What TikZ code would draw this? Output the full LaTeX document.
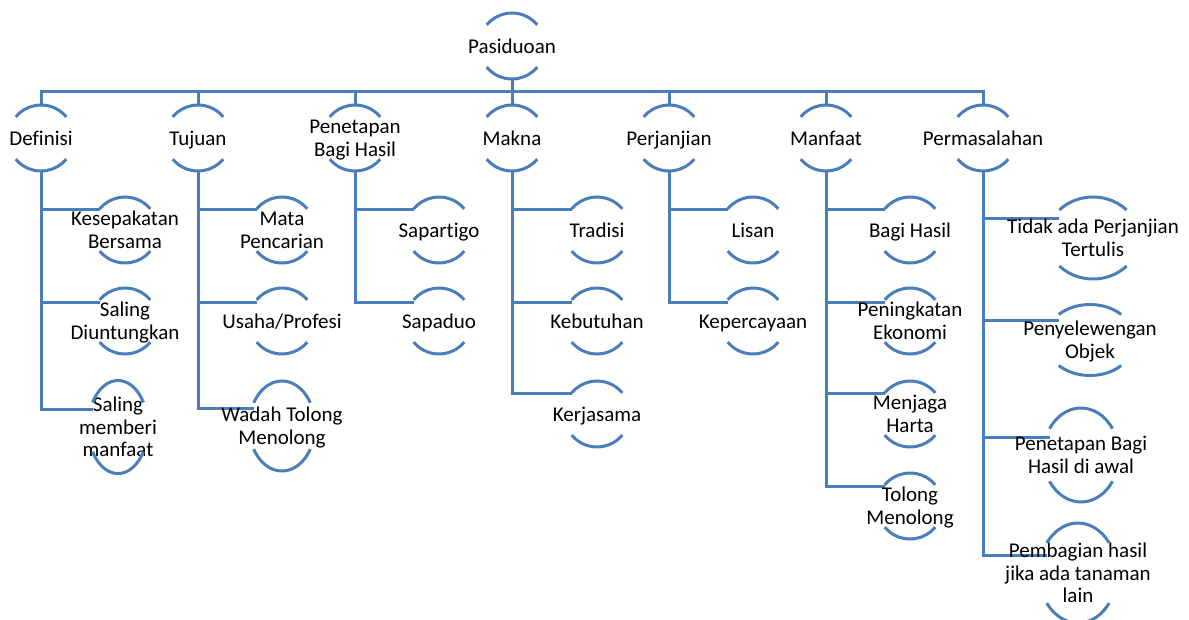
\documentclass[tikz,border=0pt]{standalone}
\usepackage{fontspec}
\setmainfont{Carlito}[Ligatures=NoCommon]
\usetikzlibrary{backgrounds}
\definecolor{lineblue}{RGB}{74,126,187}
\tikzset{
  txt/.style={inner sep=0pt, align=center, yshift=-2.5pt, font=\fontsize{21}{22.5}\selectfont},
  arcl/.style={draw=lineblue, line width=3pt},
  conn/.style={draw=lineblue, line width=3pt}
}
% name, cx, cy, rx, ry, angle, branch y, text
\newcommand{\hnode}[8]{%
  \node[txt] (#1) at (#2,-#3) {#8};
  \draw[arcl] (#2,-#3) ++(#6:#4pt and #5pt) arc[start angle=#6, end angle={180-#6}, x radius=#4pt, y radius=#5pt];
  \draw[arcl] (#2,-#3) ++({180+#6}:#4pt and #5pt) arc[start angle={180+#6}, end angle={360-#6}, x radius=#4pt, y radius=#5pt];
  \coordinate (#1-t) at (#2,{-#3+#5});
  \coordinate (#1-b) at (#2,{-#3-#5});
  \pgfmathsetmacro\ex{#2-#4*cos(#6)}
  \coordinate (#1-in) at (\ex,-#7);
}
\newcommand{\st}{\strut}
\begin{document}
\begin{tikzpicture}[x=1pt,y=1pt]
\useasboundingbox (0,0) rectangle (1189,-619);
\coordinate (bar) at (0,-91);
% root
\hnode{pas}{512}{46}{33}{33}{40}{0}{\st Pasiduoan}
% level 1
\hnode{def}{41}{138}{33}{33}{40}{0}{\st Definisi}
\hnode{tuj}{198}{138}{33}{33}{40}{0}{\st Tujuan}
\hnode{pen}{355}{138}{33}{33}{40}{0}{\st Penetapan\\\st Bagi Hasil}
\hnode{mak}{512}{138}{33}{33}{40}{0}{\st Makna}
\hnode{per}{669}{138}{33}{33}{40}{0}{\st Perjanjian}
\hnode{man}{826}{138}{33}{33}{40}{0}{\st Manfaat}
\hnode{msl}{983}{138}{33}{33}{40}{0}{\st Permasalahan}
% Definisi
\hnode{k1}{125}{230}{33}{33}{40}{209}{\st Kesepakatan\\\st Bersama}
\hnode{k2}{125}{321}{33}{33}{40}{302}{\st Saling\\\st Diuntungkan}
\hnode{k3}{118}{427}{30}{46.5}{32}{409}{\st Saling\\\st memberi\\\st manfaat}
% Tujuan
\hnode{t1}{282}{230}{33}{33}{40}{209}{\st Mata\\\st Pencarian}
\hnode{t2}{282}{321}{33}{33}{40}{302}{\st Usaha/Profesi}
\hnode{t3}{282}{426}{33}{45}{31}{408}{\st Wadah Tolong\\\st Menolong}
% Penetapan
\hnode{p1}{439}{230}{33}{33}{40}{209}{\st Sapartigo}
\hnode{p2}{439}{321}{33}{33}{40}{302}{\st Sapaduo}
% Makna
\hnode{m1}{597}{230}{33}{33}{40}{209}{\st Tradisi}
\hnode{m2}{597}{321}{33}{33}{40}{302}{\st Kebutuhan}
\hnode{m3}{597}{414}{33}{33}{40}{393}{\st Kerjasama}
% Perjanjian
\hnode{j1}{753}{230}{33}{33}{40}{209}{\st Lisan}
\hnode{j2}{753}{321}{33}{33}{40}{302}{\st Kepercayaan}
% Manfaat
\hnode{f1}{910}{230}{33}{33}{40}{209}{\st Bagi Hasil}
\hnode{f2}{910}{321}{33}{33}{40}{302}{\st Peningkatan\\\st Ekonomi}
\hnode{f3}{910}{414}{33}{33}{40}{393}{\st Menjaga\\\st Harta}
\hnode{f4}{910}{506}{33}{33}{40}{486}{\st Tolong\\\st Menolong}
% Permasalahan
\hnode{s1}{1093}{238}{46}{41}{43}{218}{\st Tidak ada Perjanjian\\\st Tertulis}
\hnode{s2}{1090}{340}{45}{35.5}{46}{320}{\st Penyelewengan\\\st Objek}
\hnode{s3}{1081}{455}{38}{47}{34}{437}{\st Penetapan Bagi\\\st Hasil di awal}
\hnode{s4}{1078}{573}{39}{50}{37}{555}{\st Pembagian hasil\\\st jika ada tanaman\\\st lain}
\begin{scope}[on background layer]
  \foreach \n in {def,tuj,pen,mak,per,man,msl}
    \draw[conn] (pas-b) -- (pas-b |- bar) -| (\n-t);
  \foreach \p/\c in {def/k1,def/k2,def/k3,tuj/t1,tuj/t2,tuj/t3,pen/p1,pen/p2,mak/m1,mak/m2,mak/m3,per/j1,per/j2,man/f1,man/f2,man/f3,man/f4,msl/s1,msl/s2,msl/s3,msl/s4}
    \draw[conn] (\p-b) |- (\c-in);
\end{scope}
\end{tikzpicture}
\end{document}
